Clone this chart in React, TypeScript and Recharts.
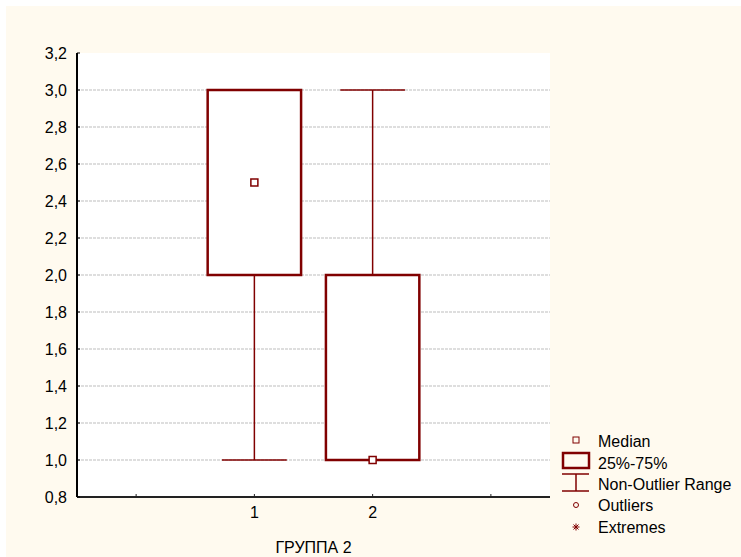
import React from 'react'
import {
  ComposedChart,
  XAxis,
  YAxis,
  CartesianGrid,
  ReferenceArea,
  ReferenceLine,
  Scatter,
  Label,
} from 'recharts'

const groups = [1, 2]
const q1 = [2.0, 1.0]
const q3 = [3.0, 2.0]
const medians = [2.5, 1.0]
const mins = [1.0, 1.0]
const maxs = [3.0, 3.0]
const yTicks = [0.8, 1.0, 1.2, 1.4, 1.6, 1.8, 2.0, 2.2, 2.4, 2.6, 2.8, 3.0, 3.2]
const xTicks = [0, 1, 2, 3]
const xLabels = ['', '1', '2', '']

const RED = '#800000'
const CREAM = '#fffaef'
const FONT = '"Liberation Sans", Arial, sans-serif'
const BOX_HALF = 0.395
const CAP_HALF = 0.274

const medianData = groups.map((g, i) => ({ x: g, y: medians[i] }))

const fmt = (v: number) => v.toFixed(1).replace('.', ',')

const MedianShape = (props: any) => {
  const { cx, cy } = props
  return <rect x={cx - 3.5} y={cy - 3.5} width={7} height={7} fill="#fff" stroke={RED} strokeWidth={1.5} />
}

function LegendBox() {
  const rows = ['Median', '25%-75%', 'Non-Outlier Range', 'Outliers', 'Extremes']
  const ys = [435, 457, 478, 499, 521]
  return (
    <svg width={735} height={551} style={{ position: 'absolute', left: 0, top: 0, pointerEvents: 'none' }}>
      <rect x={567} y={431} width={6} height={6} fill="none" stroke={RED} strokeWidth={1} />
      <rect x={557} y={447} width={26} height={15} fill="none" stroke={RED} strokeWidth={2.5} />
      <line x1={556} x2={583} y1={468} y2={468} stroke={RED} strokeWidth={1.5} />
      <line x1={570} x2={570} y1={468} y2={485} stroke={RED} strokeWidth={1.5} />
      <line x1={556} x2={583} y1={485} y2={485} stroke={RED} strokeWidth={1.5} />
      <circle cx={570} cy={499} r={2.5} fill="none" stroke={RED} strokeWidth={1} />
      <g stroke={RED} strokeWidth={1}>
        <line x1={566.5} x2={573.5} y1={521} y2={521} />
        <line x1={570} x2={570} y1={517.5} y2={524.5} />
        <line x1={567.5} x2={572.5} y1={518.5} y2={523.5} />
        <line x1={572.5} x2={567.5} y1={518.5} y2={523.5} />
      </g>
      {rows.map((r, i) => (
        <text key={r} x={592} y={ys[i]} dominantBaseline="central" fontFamily={FONT} fontSize={16} fill="#000">
          {r}
        </text>
      ))}
    </svg>
  )
}

export default function App() {
  return (
    <div style={{ position: 'absolute', left: 6, top: 6, width: 735, height: 551, background: CREAM }}>
      <ComposedChart width={735} height={551} margin={{ top: 47, right: 191, bottom: 0, left: 11 }}>
        <CartesianGrid
          vertical={false}
          fill="#fff"
          stroke="#bdbdbd"
          strokeDasharray="3 1"
          horizontalValues={yTicks.slice(1, -1)}
        />
        <XAxis
          type="number"
          dataKey="x"
          domain={[-0.5, 3.5]}
          ticks={xTicks}
          tickFormatter={(v: number) => xLabels[v]}
          interval={0}
          height={60}
          tickSize={-3}
          tickMargin={13}
          axisLine={{ stroke: '#222', strokeWidth: 2 }}
          tickLine={{ stroke: '#222' }}
          tick={{ fill: '#000', fontSize: 16, fontFamily: FONT }}
          allowDataOverflow
        >
          <Label value="ГРУППА 2" position="insideBottom" offset={4} fill="#000" fontSize={16} fontFamily={FONT} />
        </XAxis>
        <XAxis
          xAxisId="top"
          orientation="top"
          type="number"
          domain={[-0.5, 3.5]}
          ticks={xTicks}
          height={0}
          tickSize={-3}
          tick={false}
          axisLine={{ stroke: '#000', strokeWidth: 2 }}
          tickLine={{ stroke: '#000' }}
          allowDataOverflow
        />
        <YAxis
          type="number"
          domain={[0.8, 3.2]}
          ticks={yTicks}
          interval={0}
          width={60}
          tickSize={-3}
          tickMargin={13}
          tickFormatter={fmt}
          axisLine={{ stroke: '#000', strokeWidth: 2 }}
          tickLine={{ stroke: '#000' }}
          tick={{ fill: '#000', fontSize: 16, fontFamily: FONT }}
          allowDataOverflow
        />
        <YAxis
          yAxisId="right"
          orientation="right"
          type="number"
          domain={[0.8, 3.2]}
          ticks={yTicks}
          width={0}
          tickSize={-3}
          tick={false}
          axisLine={{ stroke: '#000', strokeWidth: 2 }}
          tickLine={{ stroke: '#000' }}
          allowDataOverflow
        />
        {groups.map((g, i) => (
          <ReferenceLine
            key={'wl' + g}
            segment={[{ x: g, y: mins[i] }, { x: g, y: q1[i] }]}
            stroke={RED}
            strokeWidth={1.5}
          />
        ))}
        {groups.map((g, i) => (
          <ReferenceLine
            key={'wu' + g}
            segment={[{ x: g, y: q3[i] }, { x: g, y: maxs[i] }]}
            stroke={RED}
            strokeWidth={1.5}
          />
        ))}
        {groups.map((g, i) => (
          <ReferenceArea
            key={'box' + g}
            x1={g - BOX_HALF}
            x2={g + BOX_HALF}
            y1={q1[i]}
            y2={q3[i]}
            fill="#fff"
            fillOpacity={1}
            stroke={RED}
            strokeWidth={2.5}
          />
        ))}
        {groups.map((g, i) => (
          <ReferenceLine
            key={'cl' + g}
            segment={[{ x: g - CAP_HALF, y: mins[i] }, { x: g + CAP_HALF, y: mins[i] }]}
            stroke={RED}
            strokeWidth={1.5}
          />
        ))}
        {groups.map((g, i) => (
          <ReferenceLine
            key={'cu' + g}
            segment={[{ x: g - CAP_HALF, y: maxs[i] }, { x: g + CAP_HALF, y: maxs[i] }]}
            stroke={RED}
            strokeWidth={1.5}
          />
        ))}
        <Scatter data={medianData} dataKey="y" shape={<MedianShape />} isAnimationActive={false} />
      </ComposedChart>
      <LegendBox />
    </div>
  )
}
